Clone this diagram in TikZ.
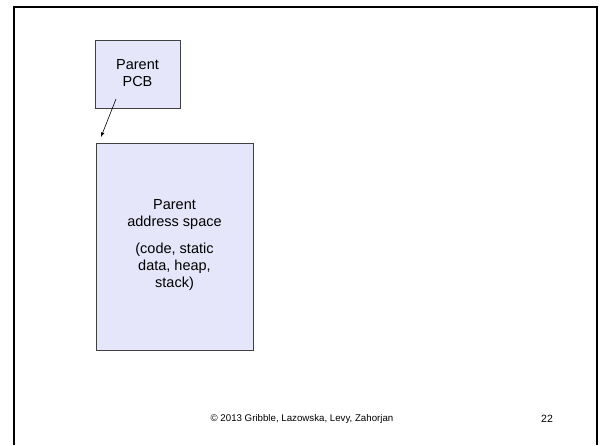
\documentclass[tikz,border=0pt]{standalone}
\usepackage{fontspec}
\setmainfont{Liberation Sans}
\definecolor{boxfill}{RGB}{230,230,250}
\begin{document}
\begin{tikzpicture}[x=1pt,y=-1pt,
  membox/.style={draw=black!75,line width=0.8pt,fill=boxfill},
  lbl/.style={font=\fontsize{14.5}{17}\selectfont,align=center,inner sep=0pt},
  foot/.style={font=\fontsize{9.7}{11}\selectfont,inner sep=0pt}]
\useasboundingbox (0,0) rectangle (602,445);
\draw[line width=2pt] (14,445) -- (14,7) -- (597,7) -- (597,445);
\draw[membox] (95,40) rectangle (180,108);
\node[lbl] (pcb) at (137.5,73) {Parent\\PCB};
\draw[membox] (96,143) rectangle (253,350);
\node[lbl] (as) at (174.5,215) {Parent\\address space};
\node[lbl] (asd) at (174.5,267) {(code, static\\data, heap,\\stack)};
\coordinate (a1) at (116,99);
\coordinate (a2) at (101,137);
\draw[-latex,line width=0.6pt] (a1) -- (a2);
\node[foot] (copy) at (302,419) {© 2013 Gribble, Lazowska, Levy, Zahorjan};
\node[foot,font=\fontsize{10.5}{12}\selectfont] (num) at (547,419) {22};
\end{tikzpicture}
\end{document}
